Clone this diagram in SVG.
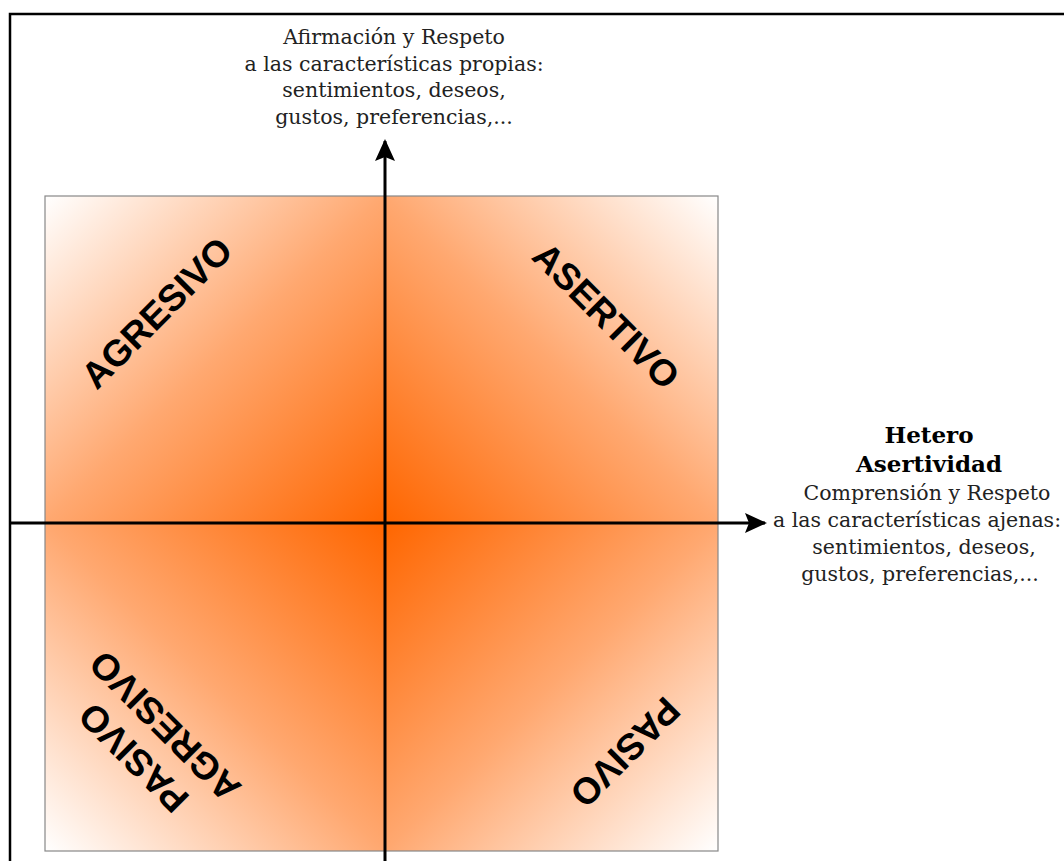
<svg xmlns="http://www.w3.org/2000/svg" width="1064" height="861" viewBox="0 0 1064 861">
<style>
.lbl{font-family:"Liberation Sans",Arial,sans-serif;font-weight:bold;font-size:37px;fill:#000;text-anchor:middle;dominant-baseline:central}
.ax{font-family:"DejaVu Serif","Liberation Serif",serif;font-size:20.5px;fill:#222;text-anchor:middle}
.axb{font-weight:bold;font-size:23px;fill:#000}
.axis{stroke:#000;stroke-width:3;fill:none}
</style>
<defs>
<linearGradient id="gTL" x1="1" y1="1" x2="0" y2="0"><stop offset="0" stop-color="#FF6600"/><stop offset="0.5" stop-color="#FFA870"/><stop offset="1" stop-color="#FFFFFF"/></linearGradient>
<linearGradient id="gTR" x1="0" y1="1" x2="1" y2="0"><stop offset="0" stop-color="#FF6600"/><stop offset="0.5" stop-color="#FFA870"/><stop offset="1" stop-color="#FFFFFF"/></linearGradient>
<linearGradient id="gBL" x1="1" y1="0" x2="0" y2="1"><stop offset="0" stop-color="#FF6600"/><stop offset="0.5" stop-color="#FFA870"/><stop offset="1" stop-color="#FFFFFF"/></linearGradient>
<linearGradient id="gBR" x1="0" y1="0" x2="1" y2="1"><stop offset="0" stop-color="#FF6600"/><stop offset="0.5" stop-color="#FFA870"/><stop offset="1" stop-color="#FFFFFF"/></linearGradient>
<marker id="arr" viewBox="0 0 22 20" refX="20" refY="10" markerWidth="22" markerHeight="20" markerUnits="userSpaceOnUse" orient="auto">
<path d="M0,0 L22,10 L0,20 L4,10 Z" fill="#000"/>
</marker>
</defs>
<rect x="10" y="14" width="1200" height="1000" fill="none" stroke="#000" stroke-width="2.5"/>
<g id="q-agresivo">
<rect x="45" y="196" width="340" height="327" fill="url(#gTL)"/>
<text class="lbl" transform="translate(157,313) rotate(-45)">AGRESIVO</text>
</g>
<g id="q-asertivo">
<rect x="385" y="196" width="333" height="327" fill="url(#gTR)"/>
<text class="lbl" transform="translate(606,316) rotate(45)">ASERTIVO</text>
</g>
<g id="q-pasivo-agresivo">
<rect x="45" y="523" width="340" height="328" fill="url(#gBL)"/>
<text class="lbl" transform="translate(149,742) rotate(225)"><tspan x="0" dy="-0.6em">PASIVO</tspan><tspan x="0" dy="1.2em">AGRESIVO</tspan></text>
</g>
<g id="q-pasivo">
<rect x="385" y="523" width="333" height="328" fill="url(#gBR)"/>
<text class="lbl" transform="translate(625,752) rotate(135)">PASIVO</text>
</g>
<rect x="45" y="196" width="673" height="655" fill="none" stroke="#888" stroke-width="1.2"/>
<g id="connectors">
<line class="axis" x1="385" y1="861" x2="385" y2="141" marker-end="url(#arr)"/>
<line class="axis" x1="10" y1="523" x2="765" y2="523" marker-end="url(#arr)"/>
</g>
<g id="label-top">
<text class="ax" x="394" y="44">Afirmación y Respeto</text>
<text class="ax" x="394" y="71">a las características propias:</text>
<text class="ax" x="394" y="97">sentimientos, deseos,</text>
<text class="ax" x="394" y="124">gustos, preferencias,...</text>
</g>
<g id="label-right">
<text class="ax axb" x="929" y="443">Hetero</text>
<text class="ax axb" x="929" y="472">Asertividad</text>
<text class="ax" x="927" y="500">Comprensión y Respeto</text>
<text class="ax" x="917" y="527">a las características ajenas:</text>
<text class="ax" x="924" y="554">sentimientos, deseos,</text>
<text class="ax" x="920" y="581">gustos, preferencias,...</text>
</g>
</svg>
